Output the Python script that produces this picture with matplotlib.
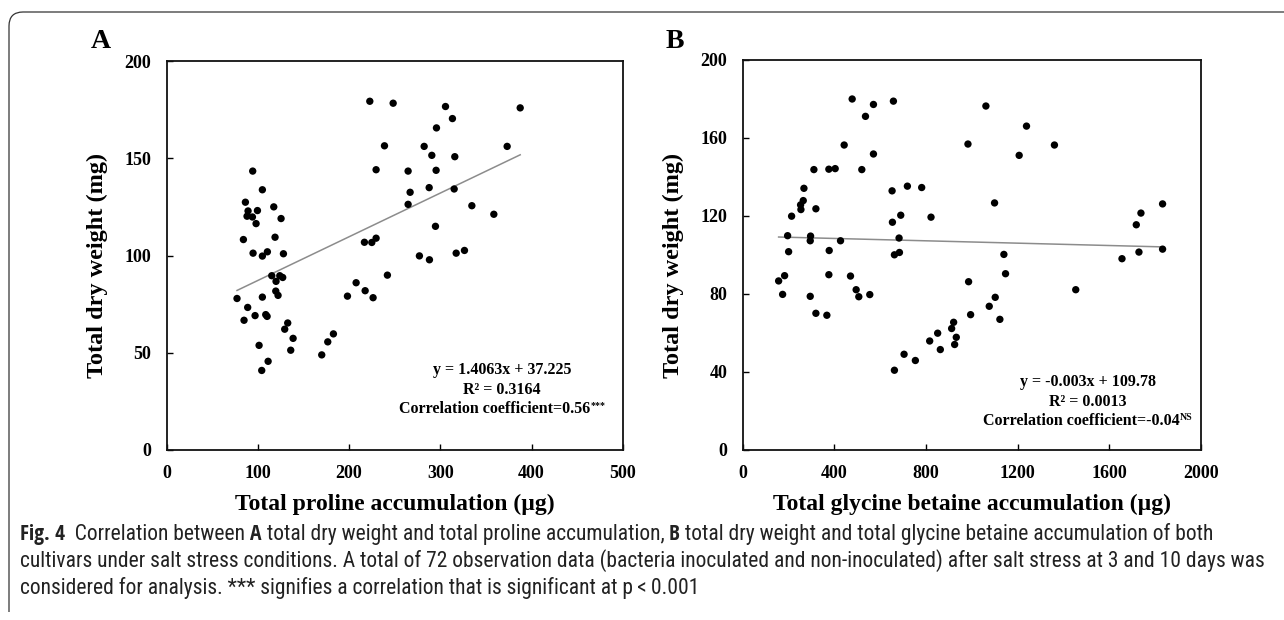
import numpy as np
import matplotlib
matplotlib.use("Agg")
import matplotlib.pyplot as plt
from matplotlib import font_manager
from matplotlib.font_manager import FontProperties
from matplotlib.path import Path
from matplotlib.patches import PathPatch

# ---------------- data ----------------
proline_x = [222.7, 248.3, 305.7, 387.6, 313.3, 295.8, 238.8, 282.3, 373.3, 290.7,
             315.9, 94.3, 229.6, 264.7, 295.4, 287.8, 104.9, 315.2, 266.9, 86.3,
             264.7, 334.6, 117.4, 89.2, 99.5, 88.1, 94.0, 125.4, 358.7, 98.0,
             294.7, 84.1, 118.8, 216.8, 224.9, 229.6, 94.7, 104.9, 110.4, 128.0,
             277.1, 288.1, 317.4, 326.5, 115.2, 124.0, 127.2, 119.9, 242.0, 207.7,
             217.6, 119.6, 122.1, 226.3, 198.2, 104.9, 77.1, 88.8, 84.8, 96.9,
             108.6, 110.1, 132.7, 129.4, 138.6, 182.8, 176.6, 136.0, 101.3, 170.0,
             111.2, 104.2]
proline_dw = [179.3, 178.3, 176.6, 175.9, 170.4, 165.6, 156.4, 156.1, 156.1, 151.5,
              150.8, 143.4, 144.1, 143.4, 143.8, 134.9, 133.8, 134.2, 132.5, 127.4,
              126.3, 125.6, 125.0, 122.9, 123.1, 120.2, 119.8, 119.0, 121.2, 116.4,
              115.0, 108.2, 109.4, 106.8, 106.7, 108.9, 101.2, 99.7, 101.9, 100.9,
              99.8, 97.8, 101.2, 102.6, 89.6, 89.6, 88.7, 86.7, 89.9, 86.0,
              81.9, 81.7, 79.5, 78.3, 79.1, 78.6, 77.9, 73.3, 66.7, 69.1,
              69.6, 68.7, 65.3, 62.1, 57.4, 59.7, 55.6, 51.3, 53.8, 48.9,
              45.6, 40.9]

glycine_x = [477.7, 657.7, 570.6, 1061.3, 535.8, 1238.5, 442.8, 983.0, 1360.4, 570.6,
             1206.5, 310.7, 376.0, 403.6, 519.8, 267.2, 718.7, 781.1, 651.9, 264.2,
             252.6, 254.1, 319.4, 1099.1, 1832.3, 1737.9, 213.4, 689.7, 821.8, 653.4,
             1717.6, 196.0, 296.2, 294.7, 426.9, 682.4, 200.4, 377.5, 662.1, 684.0,
             1139.8, 1729.2, 1832.3, 1655.2, 182.9, 376.0, 470.4, 1147.0, 156.8, 985.8,
             1453.4, 495.1, 506.7, 554.6, 174.2, 294.7, 1102.0, 1075.9, 994.6, 319.4,
             367.3, 1122.3, 920.5, 911.8, 932.1, 924.9, 850.8, 816.0, 862.4, 704.2,
             753.5, 662.1]
glycine_dw = [180.0, 178.9, 177.2, 176.4, 171.1, 166.1, 156.4, 156.9, 156.4, 151.8,
              151.1, 143.8, 144.0, 144.3, 143.8, 134.2, 135.3, 134.6, 132.9, 127.9,
              125.7, 123.3, 123.7, 126.7, 126.2, 121.5, 119.9, 120.4, 119.4, 116.8,
              115.5, 109.9, 109.7, 107.3, 107.3, 108.7, 101.7, 102.3, 100.1, 101.3,
              100.3, 101.5, 103.0, 98.1, 89.4, 89.9, 89.2, 90.4, 86.7, 86.3,
              82.2, 82.2, 78.6, 79.7, 79.8, 78.8, 78.3, 73.7, 69.4, 70.1,
              69.1, 67.0, 65.5, 62.3, 57.8, 54.1, 59.9, 55.9, 51.5, 49.1,
              45.9, 40.9]

xticks_a = [0, 100, 200, 300, 400, 500]
yticks_a = [0, 50, 100, 150, 200]
xticks_b = [0, 400, 800, 1200, 1600, 2000]
yticks_b = [0, 40, 80, 120, 160, 200]

panel_labels = ["A", "B"]
ylabel_text = "Total dry weight (mg)"
xlabel_a = "Total proline accumulation (\u00b5g)"
xlabel_b = "Total glycine betaine accumulation (\u00b5g)"
eq_a = ["y = 1.4063x + 37.225", "R\u00b2 = 0.3164", "Correlation coefficient=0.56"]
sup_a = "***"
eq_b = ["y = -0.003x + 109.78", "R\u00b2 = 0.0013", "Correlation coefficient=-0.04"]
sup_b = "NS"

caption_line1 = [("Fig. 4", "bold"), ("  Correlation between ", "normal"), ("A", "bold"),
                 (" total dry weight and total proline accumulation, ", "normal"), ("B", "bold"),
                 (" total dry weight and total glycine betaine accumulation of both", "normal")]
caption_line2 = ("cultivars under salt stress conditions. A total of 72 observation data (bacteria "
                 "inoculated and non-inoculated) after salt stress at 3 and 10 days was")
caption_line3 = "considered for analysis. *** signifies a correlation that is significant at p\u2009<\u20090.001"

# ---------------- fonts ----------------
SERIF = "Liberation Serif"


def find_condensed(weight_bold):
    cands = []
    for f in font_manager.fontManager.ttflist:
        fn = f.fname.lower()
        isbold = (f.weight in ("bold", 700, 600, "semibold", "demibold")) or ("bold" in fn and "semi" not in fn)
        if "italic" in fn or "oblique" in fn:
            continue
        if isbold != weight_bold:
            continue
        cond = (f.stretch in ("condensed", "semi-condensed", 75, 87.5)) or ("condensed" in fn) or ("narrow" in fn)
        if not cond:
            continue
        if "serif" in fn and "sans" not in fn:
            continue
        if "mono" in fn or "extra" in fn or "light" in fn:
            continue
        cands.append(f.fname)
    order = ["liberationsansnarrow", "opensans", "roboto", "dejavusanscondensed", "noto"]
    cands.sort(key=lambda p: next((i for i, k in enumerate(order) if k in p.lower().replace("-", "").replace("_", "")), 99))
    return cands[0] if cands else None


reg_file = find_condensed(False)
bold_file = find_condensed(True)


def cap_props(weight, size):
    if weight == "bold" and bold_file:
        return FontProperties(fname=bold_file, size=size)
    if weight != "bold" and reg_file:
        return FontProperties(fname=reg_file, size=size)
    return FontProperties(family="Open Sans", weight=weight, size=size)


plt.rcParams["font.family"] = [SERIF, "DejaVu Serif"]

W, H = 1284, 620
fig = plt.figure(figsize=(W / 100, H / 100), dpi=100)
fig.patch.set_facecolor("white")


def fx(x):
    return x / W


def fy(y):
    return 1 - y / H


def px_rect(l, t, r, b):
    return [l / W, 1 - b / H, (r - l) / W, (b - t) / H]


renderer = fig.canvas.get_renderer()


def text_width(t):
    return t.get_window_extent(renderer=renderer).width


def runs_centered(cx, cy, runs, size, family):
    objs = []
    for s, sc, dy in runs:
        t = fig.text(0, 0, s, fontsize=size * sc, fontweight="bold", family=family,
                     ha="left", va="baseline")
        objs.append((t, dy))
    total = sum(text_width(t) for t, _ in objs)
    x = cx - total / 2
    for t, dy in objs:
        t.set_position((fx(x), fy(cy - dy)))
        x += text_width(t)


def panel(rect, xs, ys, xticks, yticks, xlabel, eq, sup, eq_cx, eq_y0, letter, letter_xy, ylab_x):
    ax = fig.add_axes(rect)
    ax.scatter(xs, ys, s=28, c="black", edgecolors="none", zorder=3)
    coef = np.polyfit(xs, ys, 1)
    xl = np.array([min(xs), max(xs)])
    ax.plot(xl, np.polyval(coef, xl), color="#8c8c8c", lw=1.1, zorder=2)
    ax.set_xlim(xticks[0], xticks[-1])
    ax.set_ylim(yticks[0], yticks[-1])
    ax.set_xticks(xticks)
    ax.set_yticks(yticks)
    ax.tick_params(direction="in", length=4, width=1.0, labelsize=13, pad=11)
    for lb in ax.get_xticklabels() + ax.get_yticklabels():
        lb.set_fontweight("bold")
    for sp in ax.spines.values():
        sp.set_linewidth(1.3)
        sp.set_color("#111111")
    l, b, w, h = rect
    fig.text(l + w / 2, fy(504), xlabel, fontsize=17, fontweight="bold",
             ha="center", va="center")
    fig.text(fx(ylab_x), fy(265), ylabel_text, fontsize=17.5, fontweight="bold",
             rotation=90, ha="center", va="center")
    fig.text(fx(letter_xy[0]), fy(letter_xy[1]), letter, fontsize=20, fontweight="bold",
             ha="center", va="center")
    runs_centered(eq_cx, eq_y0, [(eq[0], 1.0, 0)], 11.5, SERIF)
    runs_centered(eq_cx, eq_y0 + 19.5, [(eq[1], 1.0, 0)], 11.5, SERIF)
    runs_centered(eq_cx, eq_y0 + 39, [(eq[2], 1.0, 0), (sup, 0.62, 5)], 11.5, SERIF)
    return ax


panel(px_rect(166.7, 61, 622.7, 450), proline_x, proline_dw, xticks_a, yticks_a, xlabel_a,
      eq_a, sup_a, 502, 374, panel_labels[0], (101, 42), 97)
panel(px_rect(742.7, 60, 1201, 450), glycine_x, glycine_dw, xticks_b, yticks_b, xlabel_b,
      eq_b, sup_b, 1088, 386, panel_labels[1], (675, 42), 673)

# ---------------- caption ----------------
base = 12.0
probe = fig.text(0, 0, caption_line2, fontproperties=cap_props("normal", base))
cap_size = base * (1243 / text_width(probe))
probe.remove()

x0 = 20
x = x0
for s, wt in caption_line1:
    t = fig.text(fx(x), fy(540), s, fontproperties=cap_props(wt, cap_size),
                 ha="left", va="baseline", color="#222222")
    x += text_width(t)
fig.text(fx(x0), fy(567), caption_line2, fontproperties=cap_props("normal", cap_size),
         ha="left", va="baseline", color="#222222")
fig.text(fx(x0), fy(594), caption_line3, fontproperties=cap_props("normal", cap_size),
         ha="left", va="baseline", color="#222222")

# ---------------- frame line with rounded corner ----------------
verts = [(fx(9), fy(612)), (fx(9), fy(26)), (fx(9), fy(12)), (fx(23), fy(12)), (fx(1284), fy(12))]
codes = [Path.MOVETO, Path.LINETO, Path.CURVE3, Path.CURVE3, Path.LINETO]
fig.add_artist(PathPatch(Path(verts, codes), transform=fig.transFigure, fill=False,
                         edgecolor="#333333", lw=0.9))

fig.savefig("out.png", dpi=100, facecolor="white")
